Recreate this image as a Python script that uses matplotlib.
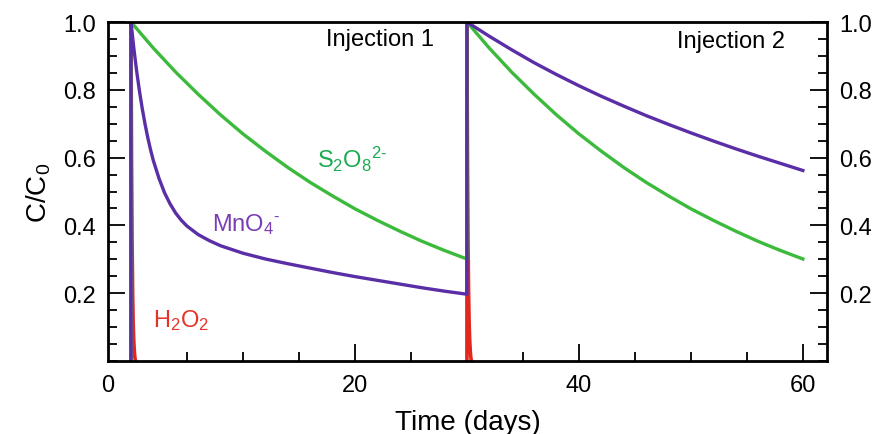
import matplotlib
matplotlib.use("Agg")
import matplotlib.pyplot as plt
from matplotlib.ticker import MultipleLocator, FixedLocator

plt.rcParams['font.family'] = ['Liberation Sans', 'DejaVu Sans']
plt.rcParams['mathtext.fontset'] = 'custom'
plt.rcParams['mathtext.rm'] = 'Liberation Sans'
plt.rcParams['mathtext.it'] = 'Liberation Sans'

nan = float('nan')

# ---- data ----
# S2O8 2- (persulfate), injection 1 (day 0) and injection 2 (day 30)
s2o8_days = [0, 0, 2, 4, 6, 8, 10, 12, 14, 16, 18, 20, 22, 24, 26, 28, 30,
             30, 32, 34, 36, 38, 40, 42, 44, 46, 48, 50, 52, 54, 56, 58, 60]
s2o8_vals = [0.0, 1.0, 0.923, 0.852, 0.787, 0.726, 0.670, 0.619, 0.571, 0.527, 0.487, 0.449,
             0.415, 0.383, 0.353, 0.326, 0.301,
             1.0, 0.923, 0.852, 0.787, 0.726, 0.670, 0.619, 0.571, 0.527, 0.487, 0.449,
             0.415, 0.383, 0.353, 0.326, 0.301]

# MnO4- (permanganate)
mno4_days = [0, 0, 0.25, 0.5, 0.75, 1, 1.25, 1.5, 1.75, 2, 2.5, 3, 3.5, 4, 4.5, 5, 6, 7, 8, 10,
             12, 14, 16, 18, 20, 22, 24, 26, 28, 30,
             30, 32, 34, 36, 38, 40, 42, 44, 46, 48, 50, 52, 54, 56, 58, 60]
mno4_vals = [0.0, 1.0, 0.924, 0.857, 0.798, 0.746, 0.700, 0.659, 0.623, 0.591, 0.539, 0.496,
             0.463, 0.436, 0.415, 0.398, 0.373, 0.355, 0.340, 0.318,
             0.301, 0.287, 0.274, 0.261, 0.249, 0.238, 0.227, 0.216, 0.206, 0.197,
             1.0, 0.958, 0.918, 0.880, 0.845, 0.812, 0.781, 0.752, 0.724, 0.698, 0.673,
             0.649, 0.626, 0.604, 0.583, 0.562]

# H2O2 (hydrogen peroxide); NaN separates the two injections
h2o2_days = [0, 0, 0.05, 0.1, 0.15, 0.2, 0.25, 0.3, 0.35, 0.4, nan,
             30, 30, 30.05, 30.1, 30.15, 30.2, 30.25, 30.3, 30.35, 30.4]
h2o2_vals = [0.0, 1.0, 0.60, 0.35, 0.20, 0.11, 0.06, 0.03, 0.01, 0.0, nan,
             0.0, 1.0, 0.60, 0.35, 0.20, 0.11, 0.06, 0.03, 0.01, 0.0]

x_ticks = [0, 20, 40, 60]
x_tick_labels = ['', '20', '40', '60']
y_ticks = [0.2, 0.4, 0.6, 0.8, 1.0]
y_tick_labels = ['0.2', '0.4', '0.6', '0.8', '1.0']

GREEN = '#3cba3c'
PURPLE = '#5a2ea6'
RED = '#e2281e'

fig = plt.figure(figsize=(8.76, 4.35), dpi=100)
ax = fig.add_axes([0.1233, 0.1678, 0.8207, 0.7793])

ax.plot(h2o2_days, h2o2_vals, color=RED, lw=2.6)
ax.plot(s2o8_days, s2o8_vals, color=GREEN, lw=2.4)
ax.plot(mno4_days, mno4_vals, color=PURPLE, lw=2.4)

ax.set_xlim(-2.05, 62.15)
ax.set_ylim(0, 1.0)

ax.xaxis.set_major_locator(FixedLocator(x_ticks))
ax.set_xticklabels(x_tick_labels)
ax.xaxis.set_minor_locator(MultipleLocator(5))
ax.yaxis.set_major_locator(FixedLocator(y_ticks))
ax.set_yticklabels(y_tick_labels)
ax.yaxis.set_minor_locator(MultipleLocator(0.05))

ax.tick_params(axis='both', which='major', direction='in', length=12, width=1.3,
               labelsize=17, pad=9)
ax.tick_params(axis='both', which='minor', direction='in', length=6.5, width=1.3)
ax.tick_params(axis='y', which='both', left=True, right=True, labelleft=True, labelright=True)
ax.tick_params(axis='x', which='both', top=False)

for sp in ax.spines.values():
    sp.set_linewidth(2.0)

# "0" label sits at the left edge of the axis in the reference
ax.annotate('0', xy=(0, 0), xycoords='axes fraction', xytext=(0, -9),
            textcoords='offset points', ha='center', va='top', fontsize=17)

ax.set_xlabel('Time (days)', fontsize=20, labelpad=10)
ax.set_ylabel(r'C/C$_0$', fontsize=20, labelpad=7)

ax.text(27.1, 0.95, 'Injection 1', ha='right', va='center', fontsize=17)
ax.text(58.4, 0.944, 'Injection 2', ha='right', va='center', fontsize=17)

ax.text(16.6, 0.571, r'S$_2$O$_8{}^{2\text{-}}$', color='#1cab50', fontsize=17,
        ha='left', va='baseline')
ax.text(7.2, 0.385, r'MnO$_4{}^{\text{-}}$', color='#7a3db4', fontsize=17,
        ha='left', va='baseline')
ax.text(1.96, 0.103, r'H$_2$O$_2$', color='#e63228', fontsize=17,
        ha='left', va='baseline')

fig.savefig('out.png', dpi=100)
